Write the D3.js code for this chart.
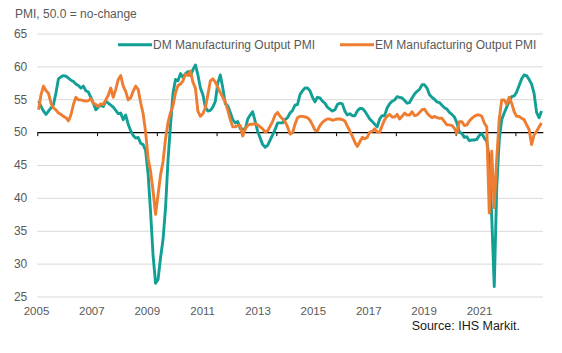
<!DOCTYPE html>
<html>
<head>
<meta charset="utf-8">
<script src="https://cdn.jsdelivr.net/npm/d3@7/dist/d3.min.js"></script>
<style>
  html, body { margin: 0; padding: 0; background: #ffffff; }
  svg { display: block; }
  text { font-family: Arial, "Liberation Sans", sans-serif; }
</style>
</head>
<body>
<svg id="chart" width="562" height="353"></svg>
<script>
// ---- Data (monthly, Jan 2005 - Nov 2021) ----
const startYear = 2005;
const startMonth = 0; // January

const dmValues = [
  54.7,53.9,53.2,52.7,53.2,53.7,54.2,56.0,58.1,58.4,
  58.6,58.5,58.2,57.9,57.7,57.3,57.1,56.7,57.0,56.3,
  56.1,55.3,54.4,53.4,53.8,54.1,53.9,54.7,54.4,54.1,
  53.8,53.3,52.8,52.9,51.9,52.6,51.2,50.2,49.5,49.1,
  49.2,48.3,48.1,47.2,43.6,37.8,31.2,27.0,27.6,30.9,
  33.7,38.5,45.8,51.1,55.9,58.0,57.8,58.9,58.3,58.9,
  59.2,58.6,59.5,60.2,58.7,56.7,55.7,53.8,53.2,53.3,
  53.8,54.7,57.5,58.7,56.7,54.3,54.0,53.0,51.9,51.4,
  51.6,50.5,50.5,50.4,52.0,52.6,53.1,51.6,50.1,49.1,
  48.1,47.7,48.0,48.8,49.6,50.4,51.4,51.4,51.4,51.9,
  52.2,52.9,53.3,54.1,54.2,55.7,56.3,56.7,56.7,56.3,
  55.3,54.6,55.3,55.2,54.7,54.4,53.8,53.5,53.2,53.4,
  54.2,54.4,54.3,53.2,52.6,52.8,52.5,52.5,53.2,53.6,
  53.6,53.2,52.6,52.0,51.6,51.2,50.8,52.0,52.5,52.5,
  53.7,54.3,54.7,54.9,55.4,55.3,55.2,54.8,54.4,54.5,
  55.2,55.8,56.2,56.5,57.2,57.2,56.7,55.7,55.3,55.0,
  54.6,54.5,54.1,53.7,53.5,53.0,52.7,52.3,51.4,50.0,
  49.8,49.2,49.3,48.7,48.8,48.8,48.9,49.5,49.8,49.1,
  48.6,46.0,37.0,26.5,41.5,48.8,51.9,52.9,53.8,54.7,
  55.4,55.5,56.1,57.1,58.1,58.7,58.6,58.0,57.3,55.9,
  53.0,52.2,53.2
];

const emValues = [
  53.4,55.7,57.0,56.3,55.9,54.4,53.7,53.4,52.9,52.7,
  52.4,52.2,51.7,52.6,54.2,55.3,54.9,54.9,54.8,54.7,
  54.8,55.1,54.4,54.2,53.9,54.3,54.2,54.9,55.6,56.7,
  55.3,56.5,58.0,58.6,57.0,56.2,54.9,55.2,56.2,57.0,
  56.5,54.5,52.8,50.0,46.0,44.0,41.0,37.5,40.5,43.5,
  45.5,49.0,51.5,53.0,54.0,56.0,57.1,57.3,57.8,58.8,
  58.6,59.3,57.6,56.7,53.2,52.4,52.8,53.7,55.7,57.8,
  58.1,57.6,56.8,56.0,55.3,54.6,53.3,51.9,50.8,50.8,
  51.0,51.0,49.4,50.5,51.0,51.2,51.2,51.3,51.1,50.8,
  50.5,50.0,50.2,50.9,51.6,52.6,53.0,52.4,52.0,51.6,
  50.8,49.7,49.9,51.2,52.2,52.4,52.4,52.3,52.2,51.8,
  51.1,50.3,50.2,51.0,51.5,51.8,52.0,52.0,51.8,51.9,
  52.0,52.0,51.9,51.7,50.9,50.2,49.4,48.5,47.8,48.5,
  49.2,49.0,49.2,50.0,50.1,50.5,50.0,50.0,51.0,51.9,
  52.4,52.7,52.3,52.3,52.7,52.0,52.4,52.9,52.6,52.6,
  53.1,52.5,52.6,53.0,53.4,53.5,52.9,52.5,52.2,52.4,
  52.2,52.1,52.1,51.6,51.1,51.1,51.0,50.6,49.8,51.6,
  51.6,51.0,51.1,51.7,52.1,52.4,52.6,52.6,52.4,51.4,
  50.8,37.7,47.1,38.5,45.9,51.9,54.9,54.9,54.2,55.3,
  54.4,53.1,52.4,52.4,52.1,51.9,51.1,50.4,48.1,49.6,
  50.1,50.8,51.4
];

const seriesNames = ["DM Manufacturing Output PMI", "EM Manufacturing Output PMI"];
const seriesColors = ["#12a096", "#ee7d31"];
const xTickLabels = ["2005","2007","2009","2011","2013","2015","2017","2019","2021"];
const yTickValues = [25,30,35,40,45,50,55,60,65];
const yAxisTitle = "PMI, 50.0 = no-change";
const sourceText = "Source: IHS Markit.";
const noChange = 50;

// ---- Layout ----
const svg = d3.select("#chart");
const plotLeft = 37.3, plotRight = 542.8, plotTop = 33.5, plotBottom = 296.5;
const n = dmValues.length;

const x = d3.scaleLinear().domain([-0.5, n - 0.5]).range([plotLeft, plotRight]);
const y = d3.scaleLinear().domain([25, 65]).range([plotBottom, plotTop]);
// category-label positions of the original chart
const xLabel = d3.scalePoint().domain(xTickLabels).range([36, 479]);

const textColor = "#595959";

// gridlines + y labels
const yAxis = d3.axisLeft(y)
  .tickValues(yTickValues)
  .tickSize(-(plotRight - plotLeft))
  .tickPadding(10)
  .tickFormat(d3.format("d"));
const gy = svg.append("g").attr("transform", `translate(${plotLeft},0)`).call(yAxis);
gy.select(".domain").remove();
gy.selectAll(".tick line").attr("stroke", "#d9d9d9").attr("stroke-width", 1);
gy.selectAll(".tick text")
  .attr("fill", textColor)
  .style("font-size", "12px");

// baseline at 50 with tick marks every 24 months
const tickIdx = d3.range(-0.5, n, 24);
const xAxis = d3.axisBottom(x)
  .tickValues(tickIdx)
  .tickSize(4)
  .tickSizeOuter(0)
  .tickFormat("");
const gx = svg.append("g").attr("transform", `translate(0,${y(noChange)})`).call(xAxis);
gx.select(".domain").attr("stroke", "#000").attr("stroke-width", 1.3);
gx.selectAll(".tick line").attr("stroke", "#000").attr("stroke-width", 1);

// x labels
const xLabAxis = d3.axisBottom(xLabel).tickSize(0).tickPadding(0);
const gxl = svg.append("g").attr("transform", `translate(0,${plotBottom + 10})`).call(xLabAxis);
gxl.select(".domain").remove();
gxl.selectAll(".tick text").attr("fill", textColor).style("font-size", "11.5px");

// lines
const line = d3.line().x((d, i) => x(i)).y(d => y(d)).curve(d3.curveLinear);
[dmValues, emValues].forEach((vals, k) => {
  svg.append("path")
    .datum(vals)
    .attr("fill", "none")
    .attr("stroke", seriesColors[k])
    .attr("stroke-width", 2.9)
    .attr("stroke-linejoin", "round")
    .attr("d", line);
});

// legend
const legendY = 44.7;
const legendX = [118, 340];
seriesNames.forEach((name, k) => {
  const g = svg.append("g").attr("transform", `translate(${legendX[k]},${legendY})`);
  g.append("line").attr("x1", 0).attr("x2", 34).attr("y1", 0).attr("y2", 0)
    .attr("stroke", seriesColors[k]).attr("stroke-width", 3);
  g.append("text").attr("x", 35).attr("y", 0).attr("dy", "0.35em")
    .attr("fill", textColor).style("font-size", "12px").text(name);
});

// title
svg.append("text").attr("x", 15).attr("y", 18)
  .attr("fill", textColor).style("font-size", "12px").text(yAxisTitle);

// source
svg.append("text").attr("x", 520).attr("y", 329.5).attr("text-anchor", "end")
  .attr("fill", "#1a1a1a").style("font-size", "12.5px").text(sourceText);
</script>
</body>
</html>
